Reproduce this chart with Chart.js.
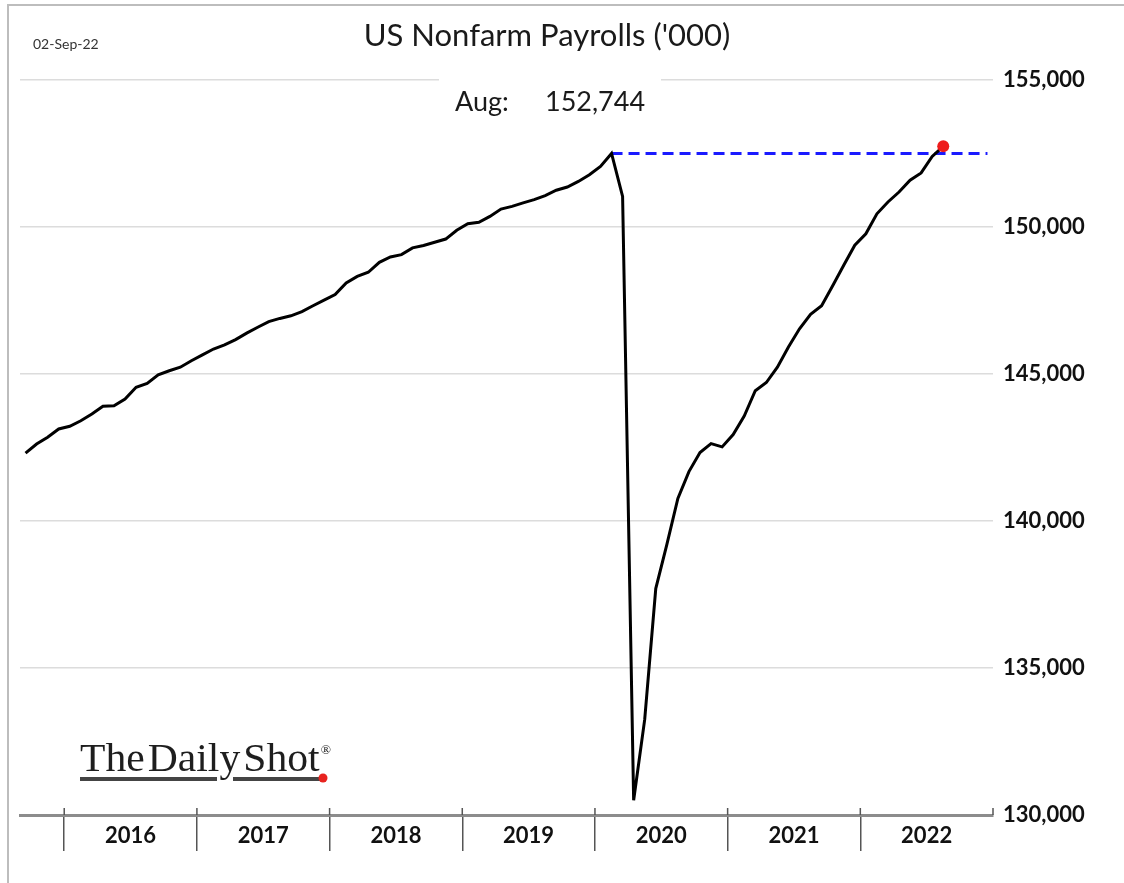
<!DOCTYPE html>
<html>
<head>
<meta charset="utf-8">
<script src="https://cdn.jsdelivr.net/npm/chart.js@4.4.1/dist/chart.umd.min.js"></script>
<style>
html,body{margin:0;padding:0;background:#fff;}
#wrap{width:1124px;height:883px;position:relative;}
canvas{display:block;}
</style>
</head>
<body>
<div id="wrap"><canvas id="c" width="1124" height="883"></canvas></div>
<script>
// ---- data (thousands) ----
const monthNames = ['Jan','Feb','Mar','Apr','May','Jun','Jul','Aug','Sep','Oct','Nov','Dec'];
const axisYears = [2015, 2016, 2017, 2018, 2019, 2020, 2021, 2022];
const firstMonth2015 = 8; // axis starts Sep 2015
const payrolls2015 = [142310, 142620, 142850, 143130]; // Sep-Dec
const payrolls2016 = [143220, 143410, 143640, 143900, 143920, 144150, 144550, 144680, 144970, 145110, 145230, 145450];
const payrolls2017 = [145650, 145850, 145990, 146170, 146390, 146590, 146780, 146890, 146980, 147120, 147320, 147510];
const payrolls2018 = [147700, 148100, 148320, 148460, 148800, 148980, 149060, 149290, 149370, 149480, 149590, 149890];
const payrolls2019 = [150110, 150160, 150360, 150610, 150700, 150820, 150930, 151070, 151250, 151360, 151550, 151780];
const payrolls2020 = [152060, 152500, 151040, 130500, 133250, 137700, 139200, 140770, 141680, 142330, 142630, 142520];
const payrolls2021 = [142940, 143570, 144430, 144710, 145230, 145920, 146540, 147030, 147320, 148000, 148700, 149380];
const payrolls2022 = [149770, 150450, 150850, 151190, 151590, 151840, 152400, 152744]; // Jan-Aug
const yearLabels = ['2016', '2017', '2018', '2019', '2020', '2021', '2022'];
const yTickValues = [130000, 135000, 140000, 145000, 150000, 155000];
const chartTitle = "US Nonfarm Payrolls ('000)";
const releaseDate = '02-Sep-22';
const logoWords = ['The', 'Daily', 'Shot'];

// ---- build category table ----
const categories = [];
axisYears.forEach(y => {
  for (let m = (y === 2015 ? firstMonth2015 : 0); m < 12; m++) categories.push(monthNames[m] + ' ' + y);
});
const series = [].concat(payrolls2015, payrolls2016, payrolls2017, payrolls2018, payrolls2019, payrolls2020, payrolls2021, payrolls2022);
const lineData = categories.map((_, i) => i < series.length ? series[i] : null);
const lastIdx = series.length - 1;
const peakValue = Math.max(...series.slice(0, lastIdx));
const peakIdx = series.indexOf(peakValue);
const peakLine = categories.map((_, i) => i >= peakIdx ? peakValue : null);
const isYearStart = i => i === categories.length || (categories[i] || '').startsWith('Jan');

const FONT = 'Lato, "Open Sans", sans-serif';

const decor = {
  id: 'decor',
  beforeDraw(chart) {
    const ctx = chart.ctx;
    ctx.save();
    ctx.fillStyle = '#fff';
    ctx.fillRect(0, 0, chart.width, chart.height);
    ctx.strokeStyle = '#bdbdbd';
    ctx.lineWidth = 2;
    ctx.beginPath();
    ctx.moveTo(8, chart.height); ctx.lineTo(8, 5); ctx.lineTo(chart.width, 5);
    ctx.stroke();
    ctx.restore();
  },
  beforeDatasetsDraw(chart) {
    const ctx = chart.ctx;
    ctx.save();
    ctx.fillStyle = '#fff';
    ctx.fillRect(439, 72, 222, 56);
    ctx.restore();
  },
  afterDraw(chart) {
    const ctx = chart.ctx;
    const xs = chart.scales.x;
    const area = chart.chartArea;
    ctx.save();
    // short tick stubs above the axis line at year boundaries
    ctx.strokeStyle = '#555';
    ctx.lineWidth = 1.5;
    ctx.beginPath();
    for (let i = 1; i <= categories.length; i++) {
      if (!isYearStart(i)) continue;
      const px = i === categories.length ? area.right : (xs.getPixelForValue(i - 1) + xs.getPixelForValue(i)) / 2;
      ctx.moveTo(px, area.bottom - 7); ctx.lineTo(px, area.bottom);
    }
    ctx.stroke();

    ctx.fillStyle = '#1a1a1a';
    ctx.textBaseline = 'middle';
    ctx.textAlign = 'center';
    ctx.font = '31px ' + FONT;
    ctx.fillText(chartTitle, 547, 36);
    ctx.textAlign = 'left';
    ctx.fillStyle = '#333';
    ctx.font = '14px ' + FONT;
    ctx.fillText(releaseDate, 33, 44);
    ctx.fillStyle = '#1a1a1a';
    const lastName = categories[lastIdx].split(' ')[0];
    ctx.font = '27px ' + FONT;
    ctx.fillText(lastName + ':', 455, 102);
    ctx.fillText(series[lastIdx].toLocaleString('en-US'), 545, 102);

    // logo
    ctx.fillStyle = '#1e1e1e';
    ctx.font = '40px "Liberation Serif", "DejaVu Serif", serif';
    ctx.textBaseline = 'alphabetic';
    ctx.save();
    ctx.translate(80, 771);
    ctx.scale(1.04, 1);
    let cx = 0;
    logoWords.forEach(wd => {
      ctx.fillText(wd, cx, 0);
      cx += ctx.measureText(wd).width + 3;
    });
    ctx.font = '13px "Liberation Serif", serif';
    ctx.fillText('®', cx - 2, -17);
    ctx.restore();
    ctx.strokeStyle = '#444';
    ctx.lineWidth = 4;
    ctx.beginPath();
    ctx.moveTo(80, 779); ctx.lineTo(217, 779);
    ctx.moveTo(233, 779); ctx.lineTo(321, 779);
    ctx.stroke();
    ctx.fillStyle = '#e8231f';
    ctx.beginPath(); ctx.arc(323, 778, 4.5, 0, Math.PI * 2); ctx.fill();
    ctx.restore();
  }
};

new Chart(document.getElementById('c'), {
  type: 'line',
  data: {
    labels: categories,
    datasets: [
      {
        data: lineData,
        borderColor: '#000',
        borderWidth: 3,
        tension: 0,
        pointRadius: c => c.dataIndex === lastIdx ? 6 : 0,
        pointBackgroundColor: '#ee1c1c',
        pointBorderWidth: 0,
        spanGaps: false
      },
      {
        data: peakLine,
        borderColor: '#1a1aff',
        borderWidth: 3,
        borderDash: [11, 6],
        pointRadius: 0,
        tension: 0
      }
    ]
  },
  options: {
    responsive: false,
    animation: false,
    devicePixelRatio: 1,
    layout: { padding: { left: 20, top: 80, right: 0, bottom: 0 } },
    plugins: { legend: { display: false }, tooltip: { enabled: false }, title: { display: false } },
    scales: {
      x: {
        type: 'category',
        offset: true,
        grid: {
          offset: true,
          drawOnChartArea: false,
          drawTicks: true,
          tickLength: 36,
          lineWidth: 1.5,
          color: c => isYearStart(c.index) ? '#555' : 'rgba(0,0,0,0)'
        },
        border: { display: true, color: '#8c8c8c', width: 3 },
        ticks: {
          autoSkip: false,
          maxRotation: 0,
          minRotation: 0,
          labelOffset: 5.5,
          padding: -28,
          color: '#111',
          font: { family: FONT, weight: 'bold', size: 22 },
          callback: (v, i) => {
            const [m, y] = categories[i].split(' ');
            return (m === 'Jun' && yearLabels.includes(y)) ? y : '';
          }
        },
        afterFit: s => { s.height = 68; }
      },
      y: {
        position: 'right',
        min: 130000,
        max: 155000,
        afterBuildTicks: s => { s.ticks = yTickValues.map(v => ({ value: v })); },
        grid: { color: '#dcdcdc', lineWidth: 1.5, drawTicks: false },
        border: { display: false },
        ticks: {
          padding: 10,
          color: '#111',
          font: { family: FONT, weight: 'bold', size: 22 },
          callback: v => v.toLocaleString('en-US')
        },
        afterFit: s => { s.width = 131; }
      }
    }
  },
  plugins: [decor]
});
</script>
</body>
</html>
